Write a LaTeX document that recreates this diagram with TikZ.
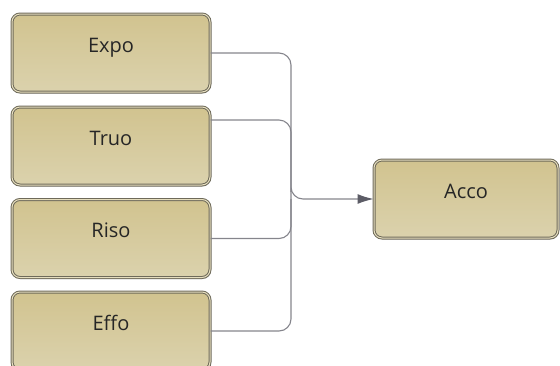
\documentclass[tikz,border=0pt]{standalone}
\usepackage{fontspec}
\setmainfont{Open Sans}
\usepackage{xcolor}
\usepackage{tikz}
\usetikzlibrary{positioning}
\usetikzlibrary{arrows.meta}
\usetikzlibrary{shadows}

\definecolor{boxtop}{HTML}{D1C38F}
\definecolor{boxbot}{HTML}{DBD2AD}
\definecolor{boxline}{HTML}{6E6A5A}
\definecolor{boxinner}{HTML}{E6DEBE}
\definecolor{wire}{HTML}{85858C}
\definecolor{tipgray}{HTML}{5C5C66}

\tikzset{
  block/.style={rectangle, rounded corners=8pt, minimum width=198pt, minimum height=78pt,
    draw=boxline, line width=1pt, double=boxinner, double distance=1pt,
    top color=boxtop, bottom color=boxbot,
    drop shadow={shadow xshift=1pt, shadow yshift=-1.5pt, opacity=0.25},
    text=black!85, font=\fontsize{20}{22}\selectfont, text height=14pt, text depth=16pt},
  wire/.style={draw=wire, line width=1.1pt, rounded corners=12pt}
}

\begin{document}
\begin{tikzpicture}[x=1pt, y=-1pt]
\useasboundingbox (0,0) rectangle (560,365);
\node at (111,53) [block, name=Expo]{Expo};
\node at (111,146) [block, name=Truo]{Truo};
\node at (111,238.5) [block, name=Riso]{Riso};
\node at (111,331) [block, name=Effo]{Effo};
\node at (466,199) [block, name=Acco, minimum width=184pt]{Acco};
\coordinate (bus) at (291,199);
\draw [wire, -{Latex[length=16pt, width=10pt, color=tipgray]}] (Expo.east) -| (bus) |- (Acco.west);
\draw [wire] ([yshift=26pt]Truo.east) -| (bus);
\draw [wire] (Riso.east) -| (bus);
\draw [wire] (Effo.east) -| (bus);
\end{tikzpicture}
\end{document}
